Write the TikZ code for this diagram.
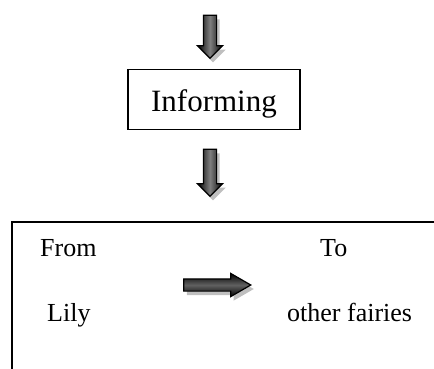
\documentclass[tikz,border=0pt]{standalone}
\usepackage{fontspec}
\setmainfont{Liberation Serif}
\usetikzlibrary{shapes.arrows,shadows}

\begin{document}
\begin{tikzpicture}[x=1pt,y=1pt,
	blockarrow/.style={shape=single arrow,draw=black,line width=1.2pt,
		drop shadow={shadow xshift=3pt,shadow yshift=-4pt,opacity=0.5}},
	downarrow/.style={blockarrow,shape border rotate=270,inner sep=6pt,
		single arrow head extend=6pt,single arrow tip angle=90,
		left color=black,right color=black,middle color=black!50},
	rightarrow/.style={blockarrow,inner sep=5.5pt,
		single arrow head extend=5.5pt,single arrow tip angle=60,
		top color=black,bottom color=black,middle color=black!62},
	word/.style={anchor=base west,inner sep=0pt,font=\fontsize{26}{31}\selectfont}]
			\useasboundingbox (0,0) rectangle (434,-368);
			\node[downarrow,minimum height=43pt] (a1) at (210,-33.5){};
			\node[draw,rectangle,line width=1.5pt,minimum width=172pt,minimum height=60pt,text height=24pt,text depth=0pt,font=\fontsize{31}{37}\selectfont] (inform) at (214,-99.5){Informing};
			\node[downarrow,minimum height=47pt] (a2) at (210,-169.5){};
			% frame of the lower box runs off the page on the right and bottom
			\node[draw,rectangle,line width=2pt,minimum width=440pt,minimum height=160pt] (frame) at (232,-302){};
			\node[word] (from) at (40,-256.5){From};
			\node[word] (to) at (320,-256.5){To};
			\node[word] (lily) at (47,-321){Lily};
			\node[word] (fairies) at (287,-321){other fairies};
			\node[rightarrow,minimum height=67pt] (a3) at (212,-285){};
		\end{tikzpicture}
\end{document}
